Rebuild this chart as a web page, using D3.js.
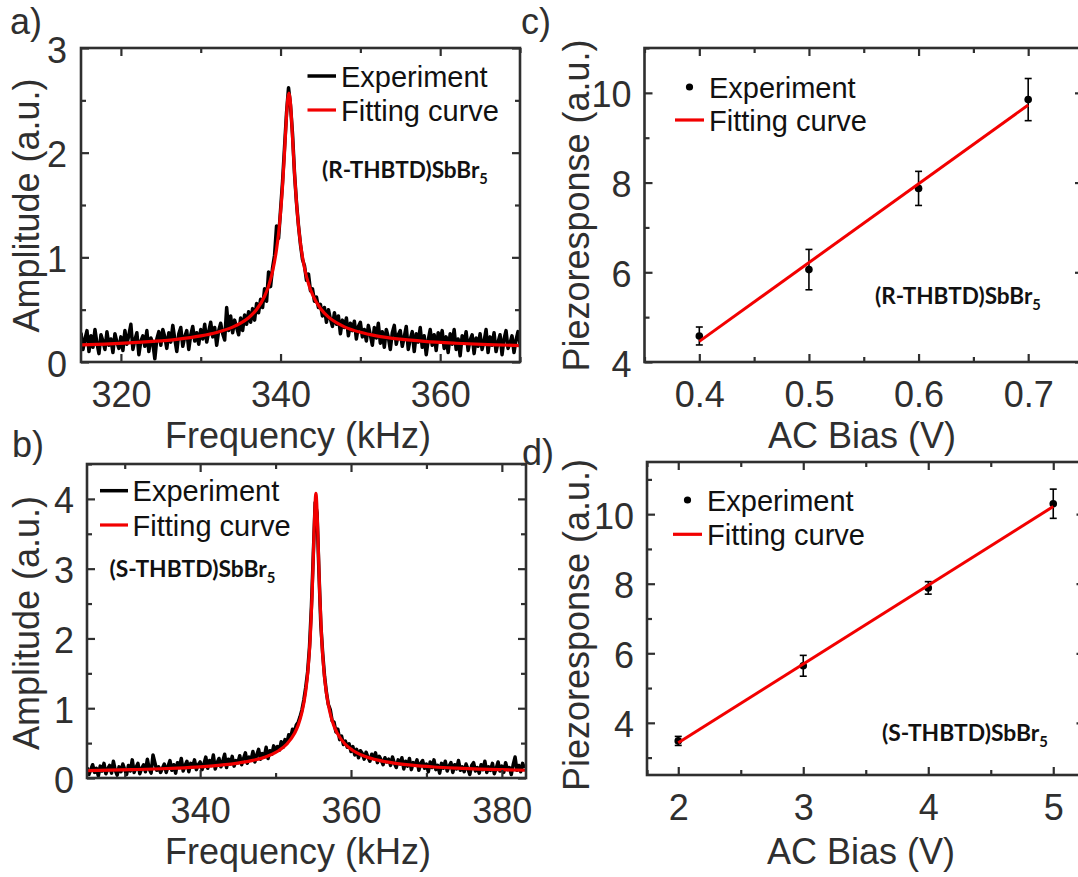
<!DOCTYPE html>
<html><head><meta charset="utf-8">
<script src="https://cdn.jsdelivr.net/npm/d3@7"></script>
<style>body{margin:0;background:#fff}svg{display:block}</style>
</head><body>
<script>
// ---------------- DATA ----------------
// Panel a: (R-THBTD)SbBr5 resonance, evenly sampled frequency sweep
const freqA_start = 315, freqA_step = 0.25;
const ampA_exp = [
0.28,0.12,0.22,0.30,0.10,0.25,0.14,0.31,0.18,0.08,0.26,0.20,0.12,0.29,0.16,0.22,0.09,0.27,0.19,0.13,
0.24,0.11,0.30,0.17,0.26,0.36,0.12,0.21,0.28,0.07,0.20,0.25,0.15,0.30,0.10,0.23,0.18,0.03,0.22,0.29,
0.16,0.31,0.24,0.13,0.28,0.19,0.35,0.22,0.10,0.27,0.33,0.15,0.24,0.30,0.12,0.26,0.34,0.20,0.28,0.17,
0.31,0.22,0.36,0.19,0.29,0.38,0.24,0.33,0.16,0.30,0.37,0.27,0.21,0.52,0.30,0.44,0.28,0.40,0.33,0.26,
0.42,0.30,0.45,0.36,0.48,0.38,0.51,0.40,0.56,0.47,0.60,0.52,0.70,0.58,0.86,0.72,0.90,1.02,1.30,1.18,
1.45,1.72,2.05,2.38,2.62,2.45,2.18,1.80,1.52,1.30,1.12,0.98,0.92,0.78,0.84,0.68,0.70,0.58,0.62,0.52,
0.55,0.44,0.52,0.38,0.50,0.41,0.34,0.47,0.36,0.44,0.27,0.40,0.33,0.42,0.25,0.37,0.30,0.39,0.22,0.34,
0.38,0.24,0.31,0.20,0.35,0.26,0.16,0.33,0.23,0.37,0.18,0.29,0.14,0.31,0.24,0.12,0.28,0.35,0.17,0.26,
0.30,0.15,0.24,0.34,0.12,0.22,0.29,0.10,0.27,0.19,0.33,0.14,0.25,0.07,0.21,0.31,0.16,0.26,0.11,0.28,
0.20,0.30,0.13,0.24,0.09,0.27,0.17,0.31,0.12,0.22,0.06,0.25,0.18,0.29,0.11,0.21,0.26,0.08,0.23,0.15,
0.27,0.12,0.20,0.31,0.09,0.24,0.16,0.28,0.10,0.19,0.26,0.07,0.22,0.30,0.13,0.18,0.25,0.09,0.21,0.29,
0.17];
const fitA_freq = [315,318,321,324,327,330,332,334,335,336,337,338,338.5,339,339.5,339.75,340,340.25,340.5,340.75,340.9,341.05,341.2,341.3,341.55,341.8,342.05,342.3,342.55,343.05,343.55,344.05,345.05,346.05,347.05,348,350,352,355,358,362,366,370];
const fitA_amp  = [0.163,0.171,0.182,0.197,0.217,0.249,0.282,0.333,0.371,0.423,0.502,0.628,0.725,0.865,1.077,1.227,1.424,1.681,2.006,2.352,2.51,2.57,2.51,2.413,2.076,1.741,1.47,1.263,1.103,0.881,0.736,0.636,0.506,0.426,0.373,0.336,0.284,0.250,0.218,0.197,0.179,0.166,0.157];

// Panel b: (S-THBTD)SbBr5 resonance
const freqB_start = 325, freqB_step = 0.25;
const ampB_exp = [
0.15,0.05,0.12,0.19,0.08,0.14,0.03,0.17,0.10,0.21,0.06,0.13,0.18,0.07,0.24,0.11,0.04,0.16,0.09,0.20,
0.12,0.05,0.18,0.10,0.26,0.08,0.15,0.21,0.06,0.14,0.19,0.09,0.27,0.13,0.07,0.33,0.22,0.11,0.16,0.08,
0.14,0.20,0.08,0.17,0.25,0.11,0.19,0.07,0.22,0.15,0.28,0.10,0.18,0.24,0.09,0.21,0.16,0.26,0.12,0.19,
0.23,0.12,0.20,0.30,0.14,0.25,0.18,0.33,0.13,0.22,0.28,0.16,0.24,0.34,0.15,0.27,0.20,0.31,0.17,0.25,
0.22,0.32,0.19,0.28,0.36,0.21,0.30,0.26,0.38,0.23,0.33,0.41,0.27,0.35,0.30,0.44,0.28,0.39,0.34,0.46,
0.38,0.45,0.40,0.52,0.44,0.55,0.50,0.62,0.58,0.70,0.66,0.76,0.80,0.88,0.98,1.12,1.30,1.52,1.88,2.45,
3.20,3.95,3.80,2.95,2.20,1.78,1.45,1.22,1.05,0.98,0.82,0.80,0.66,0.70,0.55,0.60,0.48,0.53,0.44,0.49,
0.38,0.45,0.33,0.41,0.29,0.39,0.35,0.27,0.37,0.30,0.24,0.34,0.28,0.36,0.22,0.31,0.26,0.19,0.29,0.23,
0.27,0.18,0.30,0.21,0.15,0.26,0.20,0.29,0.13,0.24,0.17,0.28,0.12,0.22,0.19,0.26,0.11,0.21,0.25,0.14,
0.20,0.09,0.23,0.15,0.26,0.12,0.18,0.07,0.21,0.14,0.24,0.10,0.17,0.22,0.08,0.19,0.13,0.25,0.11,0.16,
0.09,0.20,0.13,0.05,0.18,0.22,0.10,0.15,0.07,0.19,0.12,0.24,0.08,0.16,0.11,0.21,0.06,0.14,0.23,0.10,
0.17,0.08,0.22,0.12,0.15,0.05,0.19,0.30,0.11,0.18,0.09,0.21,0.14];
const fitB_freq = [325,328,331,334,337,340,343,345,347,349,350.5,351.5,352.5,353,353.5,354,354.3,354.6,354.85,355.1,355.35,355.6,355.85,356.1,356.4,356.7,357.2,357.7,358.2,359.2,360.2,361.7,363.7,365.7,368,371,374,377,380,383.2];
const fitB_amp  = [0.106,0.112,0.120,0.129,0.142,0.160,0.187,0.214,0.252,0.316,0.398,0.487,0.637,0.758,0.942,1.247,1.547,2.019,2.642,3.513,4.08,3.513,2.642,2.019,1.547,1.247,0.942,0.758,0.637,0.487,0.398,0.316,0.252,0.214,0.184,0.158,0.141,0.128,0.119,0.111];

// Panel c: piezoresponse vs AC bias, (R-THBTD)SbBr5
const biasC = [0.4, 0.5, 0.6, 0.7];
const respC = [4.58, 6.06, 7.87, 9.85];
const errC  = [0.20, 0.45, 0.38, 0.47];
const fitC_bias = [0.4, 0.7];
const fitC_resp = [4.46, 9.73];

// Panel d: piezoresponse vs AC bias, (S-THBTD)SbBr5
const biasD = [2, 3, 4, 5];
const respD = [3.48, 5.64, 7.88, 10.30];
const errD  = [0.13, 0.30, 0.18, 0.42];
const fitD_bias = [2, 5];
const fitD_resp = [3.43, 10.22];

// Tick values
const ticksA_x = [320, 340, 360], minorA_x = [330, 350, 370];
const ticksA_y = [0, 1, 2, 3],    minorA_y = [0.5, 1.5, 2.5];
const ticksB_x = [340, 360, 380], minorB_x = [330, 350, 370];
const ticksB_y = [0, 1, 2, 3, 4], minorB_y = [0.5, 1.5, 2.5, 3.5, 4.5];
const ticksC_x = [0.4, 0.5, 0.6, 0.7], minorC_x = [0.35, 0.45, 0.55, 0.65, 0.75];
const ticksC_y = [4, 6, 8, 10],   minorC_y = [5, 7, 9, 11];
const ticksD_x = [2, 3, 4, 5],    minorD_x = [1.75, 2.5, 3.5, 4.5];
const ticksD_y = [4, 6, 8, 10],   minorD_y = [3, 5, 7, 9, 11];

// ---------------- DRAWING ----------------
const FONT = "'Liberation Sans', Arial, Helvetica, sans-serif";
const BOLDFONT = "Lato, 'Open Sans', sans-serif";
const INK = "#2f2f2f";
const RED = "#f20000";

const svg = d3.select("body").append("svg").attr("width", 1078).attr("height", 877);

let clipCount = 0;
function panel(cfg) {
  const x = d3.scaleLinear().domain(cfg.xDomain).range([cfg.left, cfg.right]);
  const y = d3.scaleLinear().domain(cfg.yDomain).range([cfg.bottom, cfg.top]);
  const g = svg.append("g");
  const id = "clip" + (clipCount++);
  g.append("clipPath").attr("id", id).append("rect")
    .attr("x", cfg.left).attr("y", cfg.top)
    .attr("width", cfg.right - cfg.left).attr("height", cfg.bottom - cfg.top);
  const plot = g.append("g").attr("clip-path", `url(#${id})`);
  cfg.draw(plot, g, x, y);

  function styleAxis(sel) {
    sel.select(".domain").remove();
    sel.selectAll("line").attr("stroke", INK).attr("stroke-width", 2.2);
    sel.attr("font-family", FONT).attr("font-size", 36);
    sel.selectAll("text").attr("fill", INK);
  }
  const W = cfg.right - cfg.left, H = cfg.bottom - cfg.top;
  g.append("g").attr("transform", `translate(0,${cfg.bottom})`)
    .call(d3.axisBottom(x).tickValues(cfg.xt).tickSizeInner(-8).tickSizeOuter(0).tickPadding(19.5).tickFormat(cfg.xf || d3.format("")))
    .call(styleAxis);
  g.append("g").attr("transform", `translate(0,${cfg.bottom})`)
    .call(d3.axisBottom(x).tickValues(cfg.xm).tickSizeInner(-5).tickSizeOuter(0).tickFormat(""))
    .call(styleAxis);
  g.append("g").attr("transform", `translate(0,${cfg.top})`)
    .call(d3.axisTop(x).tickValues(cfg.xt).tickSizeInner(-8).tickSizeOuter(0).tickFormat(""))
    .call(styleAxis);
  g.append("g").attr("transform", `translate(0,${cfg.top})`)
    .call(d3.axisTop(x).tickValues(cfg.xm).tickSizeInner(-5).tickSizeOuter(0).tickFormat(""))
    .call(styleAxis);
  const la = g.append("g").attr("transform", `translate(${cfg.left},0)`)
    .call(d3.axisLeft(y).tickValues(cfg.yt).tickSizeInner(-8).tickSizeOuter(0).tickPadding(cfg.ypad || 13).tickFormat(d3.format("")))
    .call(styleAxis);
  la.selectAll("text").attr("dy", "0.39em");
  g.append("g").attr("transform", `translate(${cfg.left},0)`)
    .call(d3.axisLeft(y).tickValues(cfg.ym).tickSizeInner(-5).tickSizeOuter(0).tickFormat(""))
    .call(styleAxis);
  g.append("g").attr("transform", `translate(${cfg.right},0)`)
    .call(d3.axisRight(y).tickValues(cfg.yt).tickSizeInner(-8).tickSizeOuter(0).tickFormat(""))
    .call(styleAxis);
  g.append("g").attr("transform", `translate(${cfg.right},0)`)
    .call(d3.axisRight(y).tickValues(cfg.ym).tickSizeInner(-5).tickSizeOuter(0).tickFormat(""))
    .call(styleAxis);

  g.append("rect").attr("x", cfg.left).attr("y", cfg.top).attr("width", W).attr("height", H)
    .attr("fill", "none").attr("stroke", INK).attr("stroke-width", 2.6);

  g.append("text").attr("x", cfg.xTitlePos[0]).attr("y", cfg.xTitlePos[1])
    .attr("text-anchor", "middle").attr("font-family", FONT).attr("font-size", 36).attr("fill", INK)
    .text(cfg.xTitle);
  g.append("text").attr("transform", `translate(${cfg.yTitlePos[0]},${cfg.yTitlePos[1]}) rotate(-90)`)
    .attr("text-anchor", "middle").attr("font-family", FONT).attr("font-size", 36).attr("fill", INK)
    .text(cfg.yTitle);
  g.append("text").attr("x", cfg.letterPos[0]).attr("y", cfg.letterPos[1])
    .attr("font-family", FONT).attr("font-size", 36).attr("fill", INK).text(cfg.letter);

  const t = g.append("text").attr("x", cfg.notePos[0]).attr("y", cfg.notePos[1])
    .attr("font-family", BOLDFONT).attr("font-weight", 700).attr("font-size", 23).attr("fill", "#111");
  t.append("tspan").text(cfg.note);
  t.append("tspan").attr("font-size", 15).attr("dy", 6).text("5");
  const len = t.node().getComputedTextLength();
  const fs = 23 * 166 / len;
  t.attr("font-size", fs);
  t.select("tspan:last-child").attr("font-size", fs * 0.65).attr("dy", fs * 0.26);

  const L = cfg.legend;
  if (L.type === "lines") {
    g.append("line").attr("x1", L.x1).attr("x2", L.x2).attr("y1", L.y1).attr("y2", L.y1)
      .attr("stroke", "#000").attr("stroke-width", 3.5);
  } else {
    g.append("circle").attr("cx", (L.x1 + L.x2) / 2).attr("cy", L.y1).attr("r", 3.6).attr("fill", "#000");
  }
  g.append("line").attr("x1", L.x1).attr("x2", L.x2).attr("y1", L.y2).attr("y2", L.y2)
    .attr("stroke", RED).attr("stroke-width", 3.2);
  g.append("text").attr("x", L.tx).attr("y", L.y1 + 10.5).attr("font-family", FONT).attr("font-size", 29).attr("fill", "#111").text("Experiment");
  g.append("text").attr("x", L.tx).attr("y", L.y2 + 10.5).attr("font-family", FONT).attr("font-size", 29).attr("fill", "#111").text("Fitting curve");
}

function spectrumDraw(start, step, exp, fitF, fitA) {
  return (plot, g, x, y) => {
    const pts = exp.map((v, i) => [start + i * step, v]);
    plot.append("path").datum(pts)
      .attr("d", d3.line().x(d => x(d[0])).y(d => y(d[1])))
      .attr("fill", "none").attr("stroke", "#000").attr("stroke-width", 3.5).attr("stroke-linejoin", "round");
    const fit = fitF.map((f, i) => [f, fitA[i]]);
    plot.append("path").datum(fit)
      .attr("d", d3.line().x(d => x(d[0])).y(d => y(d[1])).curve(d3.curveMonotoneX))
      .attr("fill", "none").attr("stroke", RED).attr("stroke-width", 3.2).attr("stroke-linejoin", "round");
  };
}

function biasDraw(bias, resp, err, fb, fr) {
  return (plot, g, x, y) => {
    const fit = fb.map((b, i) => [b, fr[i]]);
    bias.forEach((b, i) => {
      const cx = x(b), lo = y(resp[i] - err[i]), hi = y(resp[i] + err[i]);
      g.append("line").attr("x1", cx).attr("x2", cx).attr("y1", lo).attr("y2", hi).attr("stroke", "#000").attr("stroke-width", 1.6);
      g.append("line").attr("x1", cx - 3.5).attr("x2", cx + 3.5).attr("y1", lo).attr("y2", lo).attr("stroke", "#000").attr("stroke-width", 1.6);
      g.append("line").attr("x1", cx - 3.5).attr("x2", cx + 3.5).attr("y1", hi).attr("y2", hi).attr("stroke", "#000").attr("stroke-width", 1.6);
      g.append("circle").attr("cx", cx).attr("cy", y(resp[i])).attr("r", 3.8).attr("fill", "#000");
    });
    g.append("path").datum(fit)
      .attr("d", d3.line().x(d => x(d[0])).y(d => y(d[1])))
      .attr("fill", "none").attr("stroke", RED).attr("stroke-width", 3);
  };
}

panel({
  left: 81, right: 520, top: 48, bottom: 362,
  xDomain: [315, 370], yDomain: [0, 3],
  xt: ticksA_x, xm: minorA_x, yt: ticksA_y, ym: minorA_y, ypad: 14,
  xTitle: "Frequency (kHz)", xTitlePos: [298, 448],
  yTitle: "Amplitude (a.u.)", yTitlePos: [39, 205.5],
  letter: "a)", letterPos: [10, 34],
  note: "(R-THBTD)SbBr", notePos: [322, 178],
  legend: { type: "lines", x1: 307.5, x2: 336, y1: 76, y2: 110, tx: 341 },
  draw: spectrumDraw(freqA_start, freqA_step, ampA_exp, fitA_freq, fitA_amp)
});

panel({
  left: 87, right: 526, top: 464, bottom: 778,
  xDomain: [325, 383.2], yDomain: [0, 4.5],
  xt: ticksB_x, xm: minorB_x, yt: ticksB_y, ym: minorB_y,
  xTitle: "Frequency (kHz)", xTitlePos: [298, 864],
  yTitle: "Amplitude (a.u.)", yTitlePos: [39, 623],
  letter: "b)", letterPos: [12, 457],
  note: "(S-THBTD)SbBr", notePos: [109.5, 577],
  legend: { type: "lines", x1: 100, x2: 128, y1: 490.7, y2: 525, tx: 132.6 },
  draw: spectrumDraw(freqB_start, freqB_step, ampB_exp, fitB_freq, fitB_amp)
});

panel({
  left: 644.5, right: 1083, top: 48, bottom: 362,
  xDomain: [0.35, 0.75], yDomain: [4, 11],
  xt: ticksC_x, xm: minorC_x, yt: ticksC_y, ym: minorC_y,
  xf: d3.format(".1f"),
  xTitle: "AC Bias (V)", xTitlePos: [862, 448],
  yTitle: "Piezoresponse (a.u.)", yTitlePos: [589, 205.5],
  letter: "c)", letterPos: [521, 34],
  note: "(R-THBTD)SbBr", notePos: [875, 304],
  legend: { type: "dots", x1: 675, x2: 704, y1: 87, y2: 120, tx: 709 },
  draw: biasDraw(biasC, respC, errC, fitC_bias, fitC_resp)
});

panel({
  left: 647, right: 1084.5, top: 462, bottom: 775,
  xDomain: [1.75, 5.25], yDomain: [2.5, 11.5],
  xt: ticksD_x, xm: minorD_x, yt: ticksD_y, ym: minorD_y,
  xTitle: "AC Bias (V)", xTitlePos: [861, 864],
  yTitle: "Piezoresponse (a.u.)", yTitlePos: [589, 625],
  letter: "d)", letterPos: [522, 465],
  note: "(S-THBTD)SbBr", notePos: [882, 741],
  legend: { type: "dots", x1: 673, x2: 702, y1: 500, y2: 534.3, tx: 707 },
  draw: biasDraw(biasD, respD, errD, fitD_bias, fitD_resp)
});
</script>
</body></html>
